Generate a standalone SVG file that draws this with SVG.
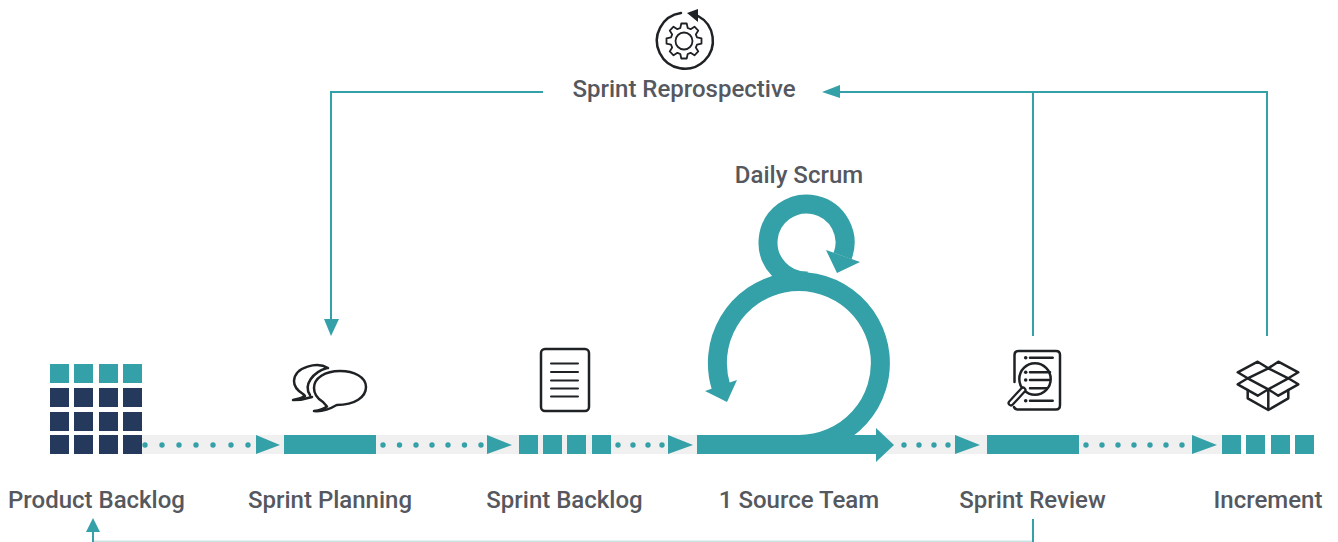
<svg xmlns="http://www.w3.org/2000/svg" width="1338" height="542" viewBox="0 0 1338 542">
<style>
.t{font-family:Roboto,"Liberation Sans",sans-serif;font-weight:500;font-size:24px;fill:#55585e;text-anchor:middle}
.f{fill:#34a0a8}
.n{fill:#25395c}
.c{fill:none;stroke:#34a0a8;stroke-width:2}
.i{fill:none;stroke:#1f2225;stroke-width:2.5;stroke-linejoin:round;stroke-linecap:round}
.d{fill:#34a0a8}
</style>
<rect width="1338" height="542" fill="#fff"/>
<rect x="142" y="435" width="1080" height="19" fill="#f0f0f0"/>
<g id="connectors">
<path class="c" d="M543 92H331V322"/>
<polygon class="f" points="331,336 324,319 339,319"/>
<path class="c" d="M1267 336V92H838"/>
<polygon class="f" points="822,92 840,85 840,98"/>
<path class="c" d="M1033 336V92"/>
<path d="M1033 541.500H94" fill="none" stroke="#c9e3e5" stroke-width="2"/>
<path class="c" d="M1033 519V542"/>
<path class="c" d="M93 528V542"/>
<polygon class="f" points="93,518 86,532 100,532"/>
<g id="flow">
<g class="d"><circle cx="145" cy="445" r="2.7"/><circle cx="162" cy="445" r="2.7"/><circle cx="179" cy="445" r="2.7"/><circle cx="196" cy="445" r="2.7"/><circle cx="213" cy="445" r="2.7"/><circle cx="231" cy="445" r="2.7"/><circle cx="248" cy="445" r="2.7"/></g>
<polygon class="f" points="256,435 280,445 256,454"/>
<g class="d"><circle cx="383" cy="445" r="2.7"/><circle cx="399.500" cy="445" r="2.7"/><circle cx="416" cy="445" r="2.7"/><circle cx="432" cy="445" r="2.7"/><circle cx="448" cy="445" r="2.7"/><circle cx="464.500" cy="445" r="2.7"/><circle cx="481" cy="445" r="2.7"/></g>
<polygon class="f" points="487,435 512,445 487,454"/>
<g class="d"><circle cx="618" cy="445" r="2.7"/><circle cx="633" cy="445" r="2.7"/><circle cx="648" cy="445" r="2.7"/><circle cx="662" cy="445" r="2.7"/></g>
<polygon class="f" points="668,435 693,445 668,454"/>
<g class="d"><circle cx="904" cy="445" r="2.7"/><circle cx="919" cy="445" r="2.7"/><circle cx="934" cy="445" r="2.7"/><circle cx="948" cy="445" r="2.7"/></g>
<polygon class="f" points="955,435 980,445 955,454"/>
<g class="d"><circle cx="1086" cy="445" r="2.7"/><circle cx="1102" cy="445" r="2.7"/><circle cx="1118" cy="445" r="2.7"/><circle cx="1134" cy="445" r="2.7"/><circle cx="1150" cy="445" r="2.7"/><circle cx="1166" cy="445" r="2.7"/><circle cx="1182" cy="445" r="2.7"/></g>
<polygon class="f" points="1192,435 1217,445 1192,454"/>
</g>
</g>
<g id="retrospective">
<path class="i" d="M681 13A28 28 0 1 0 698 16"/>
<polygon points="687,13 698,9 698,22" fill="#1f2225"/>
<polygon class="i" style="stroke-width:1.800" transform="translate(684 41)" points="-3.7,-13 -2.7,-17.5 2.7,-17.5 3.7,-13 6.58,-11.81 10.47,-14.28 14.28,-10.47 11.81,-6.58 13,-3.7 17.5,-2.7 17.5,2.7 13,3.7 11.81,6.58 14.28,10.47 10.47,14.28 6.58,11.81 3.7,13 2.7,17.5 -2.7,17.5 -3.7,13 -6.58,11.81 -10.47,14.28 -14.28,10.47 -11.81,6.58 -13,3.7 -17.5,2.7 -17.5,-2.7 -13,-3.7 -11.81,-6.58 -14.28,-10.47 -10.47,-14.28 -6.58,-11.81"/>
<circle class="i" cx="684" cy="41" r="8.500" style="stroke-width:1.800"/>
<text class="t" x="684" y="97">Sprint Reprospective</text>
</g>
<g id="daily-scrum">
<text class="t" x="799" y="183">Daily Scrum</text>
<path d="M799 444.500A81.500 81.500 0 1 0 721 387" fill="none" stroke="#34a0a8" stroke-width="19"/>
<polygon class="f" points="705,391 737,380 727,402"/>
<path d="M808 281A38.500 38.500 0 1 1 842.600 256" fill="none" stroke="#34a0a8" stroke-width="19"/>
<polygon class="f" points="826,250 860,262 837,273"/>
</g>
<g id="product-backlog">
<g class="f"><rect x="50" y="364" width="19" height="19"/><rect x="74" y="364" width="19" height="19"/><rect x="99" y="364" width="19" height="19"/><rect x="123" y="364" width="19" height="19"/></g>
<g class="n"><rect x="50" y="388" width="19" height="19"/><rect x="74" y="388" width="19" height="19"/><rect x="99" y="388" width="19" height="19"/><rect x="123" y="388" width="19" height="19"/>
<rect x="50" y="412" width="19" height="19"/><rect x="74" y="412" width="19" height="19"/><rect x="99" y="412" width="19" height="19"/><rect x="123" y="412" width="19" height="19"/>
<rect x="50" y="435" width="19" height="19"/><rect x="74" y="435" width="19" height="19"/><rect x="99" y="435" width="19" height="19"/><rect x="123" y="435" width="19" height="19"/></g>
<text class="t" x="96.500" y="508">Product Backlog</text>
</g>
<g id="sprint-planning">
<path class="i" d="M336.700 405C355 405 366 397 366 387C366 377 354 371 340 371C325 371 314 378 314 388C314 394 318 399 323 402L327 406.500Q322 410 314 411Q325 412 336.700 405Z"/>
<path class="i" d="M328 368C318 362 295 366 294 381C294 387 298 391 303 394L305 396Q300 399 293 400Q303 400 312 397M310 395C303 385 313 372 327 368"/>
<rect class="f" x="284" y="435" width="92" height="19"/>
<text class="t" x="330" y="508">Sprint Planning</text>
</g>
<g id="sprint-backlog">
<rect class="i" x="541" y="349" width="48" height="62" rx="4"/>
<path class="i" style="stroke-width:2" d="M551 363.500H578M551 372H578M551 380.500H578M551 388.500H578M551 396.500H578"/>
<g class="f"><rect x="519" y="435" width="19" height="19"/><rect x="543" y="435" width="19" height="19"/><rect x="567" y="435" width="19" height="19"/><rect x="592" y="435" width="19" height="19"/></g>
<text class="t" x="564.500" y="508">Sprint Backlog</text>
</g>
<g id="source-team">
<rect class="f" x="697" y="435" width="180" height="19"/>
<polygon class="f" points="876,428 894,445 876,462"/>
<text class="t" x="799" y="508">1 Source Team</text>
</g>
<g id="sprint-review">
<path class="i" d="M1014.500 382V355Q1014.500 351 1018.500 351H1056Q1060 351 1060 355V405Q1060 409.500 1056 409.500H1018Q1015 409.500 1014 407"/>
<path class="i" d="M1030 357.700H1052.700M1030 372.300H1050M1030 380H1050M1030 388.300H1047M1030 400.700H1052.700"/>
<g fill="#1f2225"><circle cx="1025.700" cy="357.700" r="1.800"/><circle cx="1025.700" cy="372.300" r="1.800"/><circle cx="1025.700" cy="380" r="1.800"/><circle cx="1025.700" cy="400.700" r="1.800"/></g>
<circle class="i" cx="1035" cy="379" r="15.700"/>
<path d="M1023 390L1011 403" fill="none" stroke="#1f2225" stroke-width="7" stroke-linecap="round"/>
<path d="M1023 390L1011 403" fill="none" stroke="#fff" stroke-width="2.500" stroke-linecap="round"/>
<rect class="f" x="987" y="435" width="92" height="19"/>
<text class="t" x="1032.500" y="508">Sprint Review</text>
</g>
<g id="increment">
<path class="i" d="M1237.700 372.300L1257.700 361.700L1268.300 368.300L1278.300 361.700L1298.300 372.300L1288.300 378.300L1298.300 384.300L1278.300 395.700L1268.300 389.300L1257.700 395.700L1237.700 384.300L1247.700 378.300Z"/>
<path class="i" d="M1247.700 378.300L1268.300 368.300L1288.300 378.300L1268.300 389.300ZM1247.700 390V398.300L1268.300 410L1288.300 398.300V390M1268.300 389.300V410"/>
<g class="f"><rect x="1222" y="435" width="19" height="19"/><rect x="1246" y="435" width="19" height="19"/><rect x="1271" y="435" width="19" height="19"/><rect x="1295" y="435" width="19" height="19"/></g>
<text class="t" x="1268" y="508">Increment</text>
</g>
</svg>
